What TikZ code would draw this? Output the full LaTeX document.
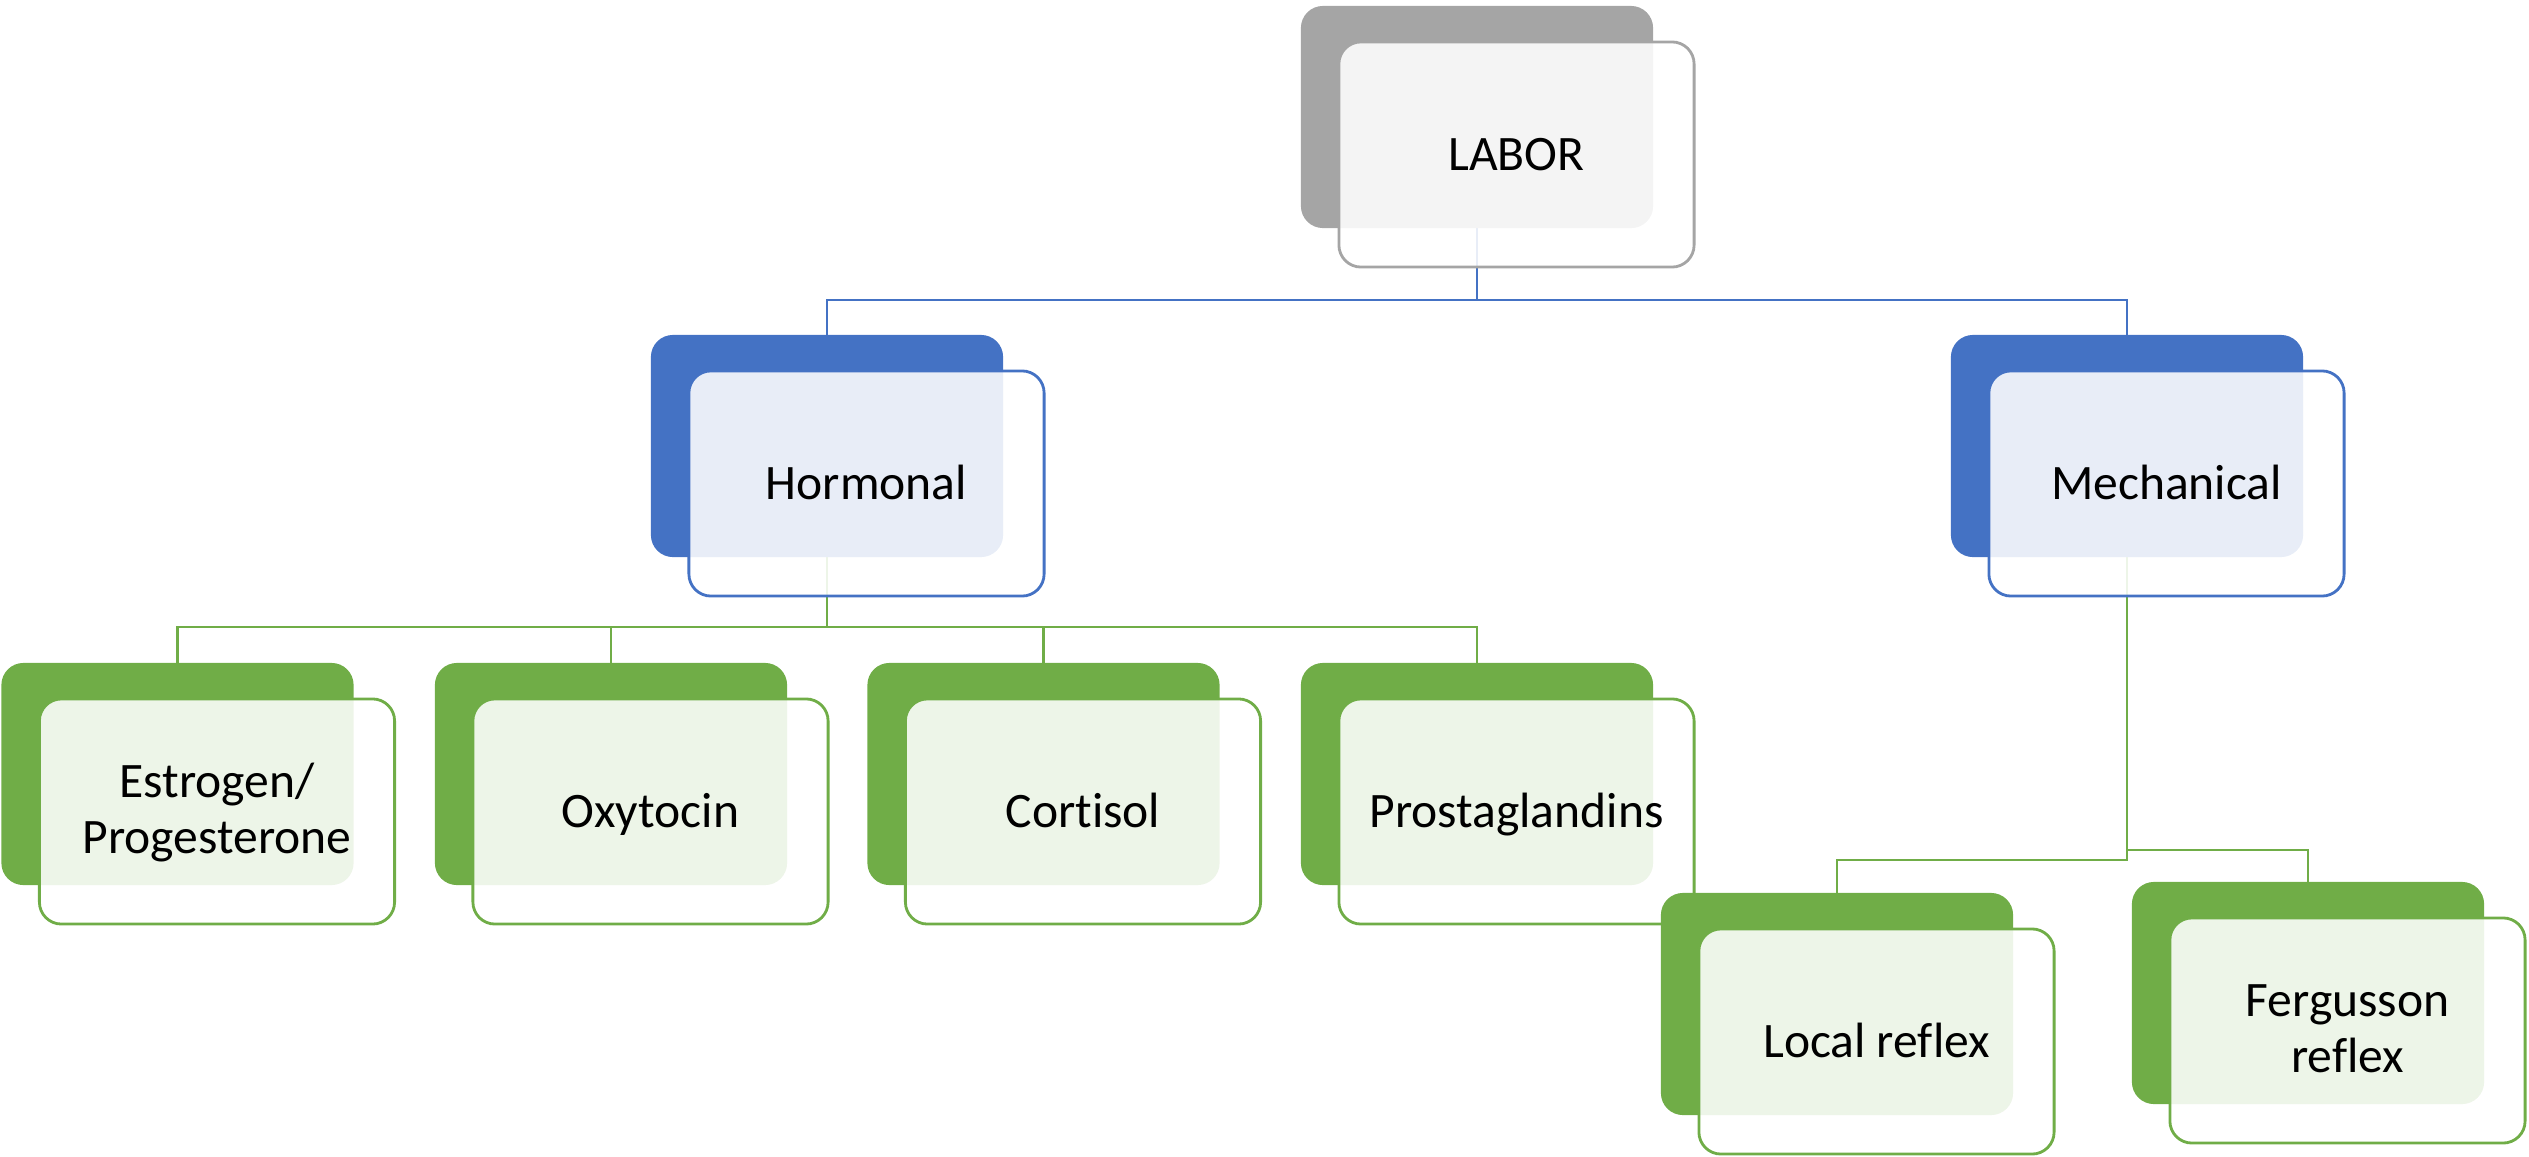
\documentclass[tikz,border=0pt]{standalone}
\usepackage{fontspec}
\setmainfont{Carlito}[Ligatures=NoCommon]
\usetikzlibrary{backgrounds}

\definecolor{greyC}{HTML}{A5A5A5}
\definecolor{blueC}{HTML}{4472C4}
\definecolor{greenC}{HTML}{70AD47}

\tikzset{
  backbox/.style={rectangle, rounded corners=0.22cm, minimum width=3.52cm,
    minimum height=2.22cm, inner sep=0pt, outer sep=0pt, draw=none, fill=#1},
  frontbox/.style={rectangle, rounded corners=0.22cm, minimum width=3.55cm,
    minimum height=2.25cm, inner sep=0pt, outer sep=0pt, draw=#1,
    line width=0.8pt, fill=white, fill opacity=0.88, text opacity=1,
    text=black, align=center, text height=0.32cm, text depth=0pt,
    font={\fontsize{14.1pt}{15.9pt}\selectfont}},
  twolines/.style={text height=0.83cm, text depth=0pt},
  link/.style={draw=#1, line width=0.8pt},
}

\begin{document}
\begin{tikzpicture}[x=0.01cm, y=-0.01cm]
\useasboundingbox (0,0) rectangle (2529,1157);

% top level
\node[backbox=greyC] (labB) at (1477,117) {};
\node[frontbox=greyC] (labF) at (1516.5,154.5) {LABOR};

% second level
\node[backbox=blueC] (hormB) at (827,446) {};
\node[frontbox=blueC] (hormF) at (866.5,483.5) {Hormonal};
\node[backbox=blueC] (mechB) at (2127,446) {};
\node[frontbox=blueC] (mechF) at (2166.5,483.5) {Mechanical};

% hormonal factors
\node[backbox=greenC] (estB) at (177.5,774) {};
\node[frontbox=greenC, twolines] (estF) at (217,811.5) {Estrogen/\\Progesterone};
\node[backbox=greenC] (oxyB) at (611,774) {};
\node[frontbox=greenC] (oxyF) at (650.5,811.5) {Oxytocin};
\node[backbox=greenC] (corB) at (1043.5,774) {};
\node[frontbox=greenC] (corF) at (1083,811.5) {Cortisol};
\node[backbox=greenC] (proB) at (1477,774) {};
\node[frontbox=greenC] (proF) at (1516.5,811.5) {Prostaglandins};

% mechanical factors
\node[backbox=greenC] (locB) at (1837,1004) {};
\node[frontbox=greenC] (locF) at (1876.5,1041.5) {Local reflex};
\node[backbox=greenC] (ferB) at (2308,993) {};
\node[frontbox=greenC, twolines] (ferF) at (2347.5,1030.5) {Fergusson\\reflex};

% elbow connectors, kept behind the boxes
\begin{scope}[on background layer]
  \draw[link=blueC] (hormB.north) -- ++(0,-35) -| (labB.south);
  \draw[link=blueC] (mechB.north) -- ++(0,-35) -| (labB.south);

  \draw[link=greenC] (estB.north) -- ++(0,-36) -| (hormB.south);
  \draw[link=greenC] (oxyB.north) -- ++(0,-36) -| (hormB.south);
  \draw[link=greenC] (corB.north) -- ++(0,-36) -| (hormB.south);
  \draw[link=greenC] (proB.north) -- ++(0,-36) -| (hormB.south);

  \draw[link=greenC] (locB.north) -- ++(0,-33) -| (mechB.south);
  \draw[link=greenC] (ferB.north) -- ++(0,-32) -| (mechB.south);
\end{scope}
\end{tikzpicture}
\end{document}
